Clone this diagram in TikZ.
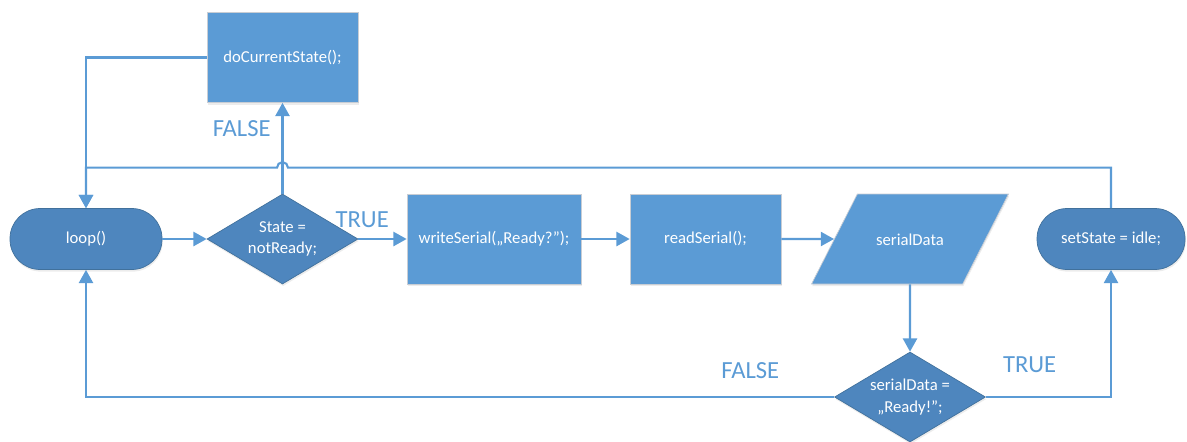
\documentclass[tikz,border=0pt]{standalone}
\usepackage{fontspec}
\setmainfont{Carlito}
\usetikzlibrary{shapes.geometric, arrows.meta, positioning, shadows}
\definecolor{boxblue}{RGB}{91,155,213}
\definecolor{darkblue}{RGB}{78,134,190}
\definecolor{edgeblue}{RGB}{65,113,156}
\definecolor{lineblue}{RGB}{91,155,213}
\definecolor{boxedge}{RGB}{200,205,212}
\newcommand{\boxfont}{\fontsize{9.5}{12}\selectfont}
\newcommand{\branchfont}{\fontsize{14}{16}\selectfont}
\tikzstyle{startstop} = [
	rectangle,
	rounded corners=0.6cm,
	minimum width=3.04cm,
	minimum height=1.22cm,
	align=center,
	draw=edgeblue,
	fill=darkblue,
	text=white,
	font=\boxfont,
	drop shadow={opacity=0.15, shadow xshift=0.4pt, shadow yshift=-1.2pt}
]
\tikzstyle{io} = [
	trapezium,
	trapezium left angle=63,
	trapezium right angle=117,
	trapezium stretches body=true,
	text height=0.25cm,
	text depth=0cm,
	inner ysep=0.775cm,
	minimum width=3.94cm,
	align=center,
	draw=boxedge,
	fill=boxblue,
	text=white,
	font=\boxfont,
	drop shadow={opacity=0.15, shadow xshift=0.4pt, shadow yshift=-1.2pt}
]
\tikzstyle{process} = [
	rectangle,
	minimum width=3.02cm,
	minimum height=1.8cm,
	align=center,
	draw=boxedge,
	fill=boxblue,
	text=white,
	font=\boxfont,
	drop shadow={opacity=0.15, shadow xshift=0.4pt, shadow yshift=-1.2pt}
]
\tikzstyle{decision} = [
	diamond,
	aspect=1.66,
	inner sep=0pt,
	minimum width=3.02cm,
	minimum height=1.8cm,
	align=center,
	draw=edgeblue,
	fill=darkblue,
	text=white,
	font=\boxfont,
	drop shadow={opacity=0.15, shadow xshift=0.4pt, shadow yshift=-1.2pt}
]
\tikzstyle{branch} = [text=lineblue, font=\branchfont]
\tikzstyle{arrow} = [line width=1.2pt, draw=lineblue, -{Triangle[length=7.5pt, width=8pt]}]
\begin{document}
\begin{tikzpicture}[node distance=4.1cm]
	\useasboundingbox (0,0) rectangle (23.74,8.82);
	\node (loop) [startstop] at (1.72,4.04) {loop()};
	\node (dec1) [decision, right of=loop, xshift=-0.17cm] {State =\\notReady;};
	\node (docur) [process, above of=dec1, yshift=-0.47cm] {doCurrentState();};
	\node (write) [process, right of=dec1, xshift=0.13cm, minimum width=3.48cm] {writeSerial(„Ready?”);};
	\node (read) [process, right of=write, xshift=0.13cm] {readSerial();};
	\node (data) [io, right of=read, xshift=-0.01cm] {serialData};
	\node (set) [startstop, right of=data, xshift=-0.08cm, minimum width=2.96cm] {setState = idle;};
	\node (dec2) [decision, below of=data, yshift=0.94cm] {serialData =\\„Ready!”;};
	\coordinate (hop) at ([yshift=0.52cm]dec1.north);
	
	\draw [arrow] (loop) -- (dec1);
	\draw [arrow] (dec1) -- node[branch, pos=0.08, anchor=south, yshift=0.09cm] {TRUE} (write);
	\draw [arrow] (dec1) -- node[branch, pos=0.72, anchor=east, xshift=-0.1cm] {FALSE} (docur);
	\draw [arrow] (docur) -| (loop);
	\draw [arrow] (write) -- (read);
	\draw [arrow] (read) -- (data);
	\draw [arrow] (data) -- (dec2);
	\draw [arrow] (dec2) -| node[branch, pos=0.056, anchor=south, yshift=0.23cm] {FALSE} (loop);
	\draw [arrow] (dec2) -| node[branch, pos=0.175, anchor=south, yshift=0.35cm] {TRUE} (set);
	\draw [arrow] (set) |- ([xshift=0.11cm]hop) arc[start angle=0, end angle=180, radius=0.11cm] -| (loop);
\end{tikzpicture}
\end{document}
